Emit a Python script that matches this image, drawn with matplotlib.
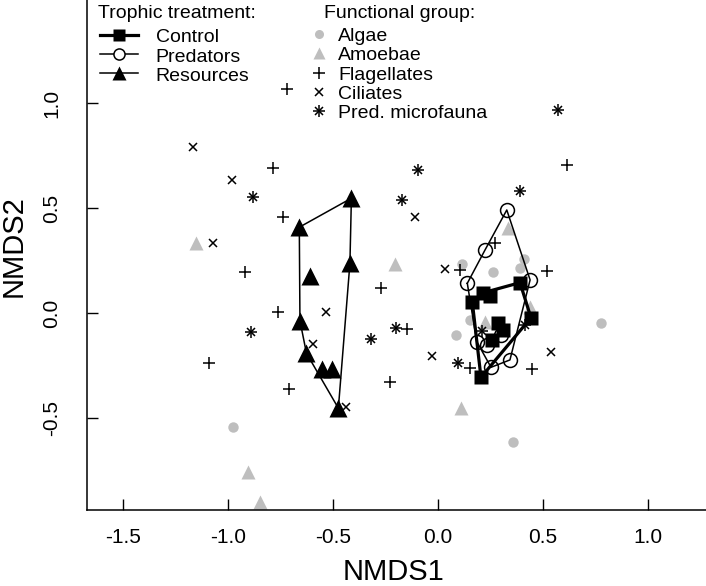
import numpy as np
import matplotlib
matplotlib.use("Agg")
import matplotlib.pyplot as plt

plt.rcParams['font.family'] = ['Liberation Sans', 'DejaVu Sans']
plt.rcParams['axes.unicode_minus'] = False

# ---- data (site scores, by trophic treatment) ----
control_x = [0.392, 0.217, 0.249, 0.165, 0.444, 0.289, 0.312, 0.257, 0.206]
control_y = [0.145, 0.097, 0.081, 0.051, -0.022, -0.046, -0.080, -0.128, -0.306]
predators_x = [0.329, 0.225, 0.141, 0.440, 0.186, 0.233, 0.344, 0.254, 0.300]
predators_y = [0.491, 0.300, 0.142, 0.158, -0.136, -0.152, -0.223, -0.258, -0.105]
resources_x = [-0.411, -0.659, -0.418, -0.608, -0.656, -0.625, -0.552, -0.505, -0.473]
resources_y = [0.547, 0.409, 0.237, 0.178, -0.036, -0.191, -0.268, -0.268, -0.453]

# ---- species scores, by functional group ----
algae_x = [-0.973, 0.358, 0.776, 0.114, 0.262, 0.412, 0.392, 0.086, 0.154]
algae_y = [-0.541, -0.615, -0.049, 0.234, 0.197, 0.256, 0.213, -0.104, -0.033]
amoebae_x = [-1.151, -0.203, 0.336, 0.111, -0.901, -0.845, 0.440, 0.225]
amoebae_y = [0.332, 0.234, 0.404, -0.453, -0.755, -0.898, 0.030, -0.040]
flag_x = [-0.719, -0.783, -0.735, -0.918, -0.759, -1.090, -0.707, -0.271, -0.148,
          -0.229, 0.106, 0.519, 0.154, 0.451, 0.614, 0.273]
flag_y = [1.066, 0.690, 0.456, 0.197, 0.004, -0.239, -0.360, 0.118, -0.076,
          -0.330, 0.205, 0.202, -0.263, -0.266, 0.705, 0.335]
cil_x = [-1.164, -0.978, -1.071, -0.532, -0.592, -0.437, -0.108, 0.035, -0.029, 0.540]
cil_y = [0.791, 0.634, 0.335, 0.007, -0.147, -0.446, 0.456, 0.209, -0.203, -0.184]
pred_x = [0.574, -0.092, -0.881, -0.171, 0.392, -0.890, -0.199, -0.319, 0.098, 0.210, 0.416]
pred_y = [0.967, 0.681, 0.554, 0.539, 0.581, -0.092, -0.073, -0.125, -0.236, -0.084, -0.057]

x_ticks = [-1.5, -1.0, -0.5, 0.0, 0.5, 1.0]
y_ticks = [-0.5, 0.0, 0.5, 1.0]

GRAY = '#bebebe'
W, H = 706, 586


def hull(xs, ys):
    pts = sorted(set(zip(xs, ys)))
    def cross(o, a, b):
        return (a[0]-o[0])*(b[1]-o[1]) - (a[1]-o[1])*(b[0]-o[0])
    lower, upper = [], []
    for p in pts:
        while len(lower) >= 2 and cross(lower[-2], lower[-1], p) <= 0:
            lower.pop()
        lower.append(p)
    for p in reversed(pts):
        while len(upper) >= 2 and cross(upper[-2], upper[-1], p) <= 0:
            upper.pop()
        upper.append(p)
    h = lower[:-1] + upper[:-1]
    h.append(h[0])
    return [p[0] for p in h], [p[1] for p in h]


fig = plt.figure(figsize=(W/100, H/100), dpi=100)
L, R_, B, T = 87.3, 706, 510, 0
ax = fig.add_axes([L/W, 1-B/H, (R_-L)/W, (B-T)/H])
ax.set_xlim((L-437.7)/210, (R_-437.7)/210)
ax.set_ylim((313.1-B)/210, (313.1-T)/210)
for s in ['top', 'right']:
    ax.spines[s].set_visible(False)
for s in ['left', 'bottom']:
    ax.spines[s].set_linewidth(1.1)
ax.set_xticks(x_ticks)
ax.set_yticks(y_ticks)
ax.set_xticklabels(['%.1f' % v for v in x_ticks])
ax.set_yticklabels(['%.1f' % v for v in y_ticks], rotation=90, va='center')
ax.tick_params(axis='x', direction='in', length=7.7, width=1.0, pad=13, labelsize=15)
ax.tick_params(axis='y', direction='in', length=7.7, width=1.0, pad=19, labelsize=15)

# species
ax.plot(algae_x, algae_y, 'o', color=GRAY, ms=7.5, mec='none', zorder=2)
ax.plot(amoebae_x, amoebae_y, '^', color=GRAY, ms=9.5, mec='none', zorder=2)
ax.plot(flag_x, flag_y, '+', color='black', ms=8, mew=1.1, zorder=3)
ax.plot(cil_x, cil_y, 'x', color='black', ms=6, mew=1.1, zorder=3)
ax.plot(pred_x, pred_y, '+', color='black', ms=8, mew=1.1, zorder=3)
ax.plot(pred_x, pred_y, 'x', color='black', ms=6, mew=1.1, zorder=3)

# hulls
hx, hy = hull(control_x, control_y)
ax.plot(hx, hy, '-', color='black', lw=2.3, zorder=4)
hx, hy = hull(predators_x, predators_y)
ax.plot(hx, hy, '-', color='black', lw=1.1, zorder=4)
hx, hy = hull(resources_x, resources_y)
ax.plot(hx, hy, '-', color='black', lw=1.1, zorder=4)

# sites
ax.plot(control_x, control_y, 's', color='black', ms=10.5, mec='none', zorder=5)
ax.plot(predators_x, predators_y, 'o', mfc='none', mec='black', ms=10, mew=1.1, zorder=5)
ax.plot(resources_x, resources_y, '^', color='black', ms=13, mec='none', zorder=5)

# axis labels
fig.text(393.4/W, 1-580/H, 'NMDS1', ha='center', va='baseline', fontsize=21)
fig.text(13.8/W, 1-245.7/H, 'NMDS2', ha='center', va='center', rotation=90, fontsize=21)

# legends (overlay in pixel coordinates)
lg = fig.add_axes([0, 0, 1, 1], facecolor='none')
lg.set_xlim(0, W)
lg.set_ylim(H, 0)
lg.axis('off')
fs = 14
lg.text(98.3, 18.3, 'Trophic treatment:', fontsize=fs, va='baseline', ha='left')
troph_labels = ['Control', 'Predators', 'Resources']
troph_y = [35, 54.3, 73.3]
lg.plot([100, 138], [troph_y[0]]*2, '-', color='black', lw=2.3)
lg.plot([119], [troph_y[0]], 's', color='black', ms=8.5, mec='none')
lg.plot([100, 138], [troph_y[1]]*2, '-', color='black', lw=1.1)
lg.plot([119], [troph_y[1]], 'o', mfc='white', mec='black', ms=8, mew=1.1)
lg.plot([100, 138], [troph_y[2]]*2, '-', color='black', lw=1.1)
lg.plot([119], [troph_y[2]], '^', color='black', ms=10, mec='none')
for lab, yy in zip(troph_labels, troph_y):
    lg.text(155.7, yy + 7.5, lab, fontsize=fs, va='baseline', ha='left')

lg.text(324.3, 18.3, 'Functional group:', fontsize=fs, va='baseline', ha='left')
fg_labels = ['Algae', 'Amoebae', 'Flagellates', 'Ciliates', 'Pred. microfauna']
fg_y = [34, 53.3, 72.6, 91.9, 111.2]
mx = 319.3
lg.plot([mx], [fg_y[0]], 'o', color=GRAY, ms=6.5, mec='none')
lg.plot([mx], [fg_y[1]] , '^', color=GRAY, ms=8.5, mec='none')
lg.plot([mx], [fg_y[2]], '+', color='black', ms=8, mew=1.1)
lg.plot([mx], [fg_y[3]], 'x', color='black', ms=6, mew=1.1)
lg.plot([mx], [fg_y[4]], '+', color='black', ms=8, mew=1.1)
lg.plot([mx], [fg_y[4]], 'x', color='black', ms=6, mew=1.1)
for lab, yy in zip(fg_labels, fg_y):
    lg.text(338.3, yy + 7, lab, fontsize=fs, va='baseline', ha='left')

fig.savefig('out.png', dpi=100)
